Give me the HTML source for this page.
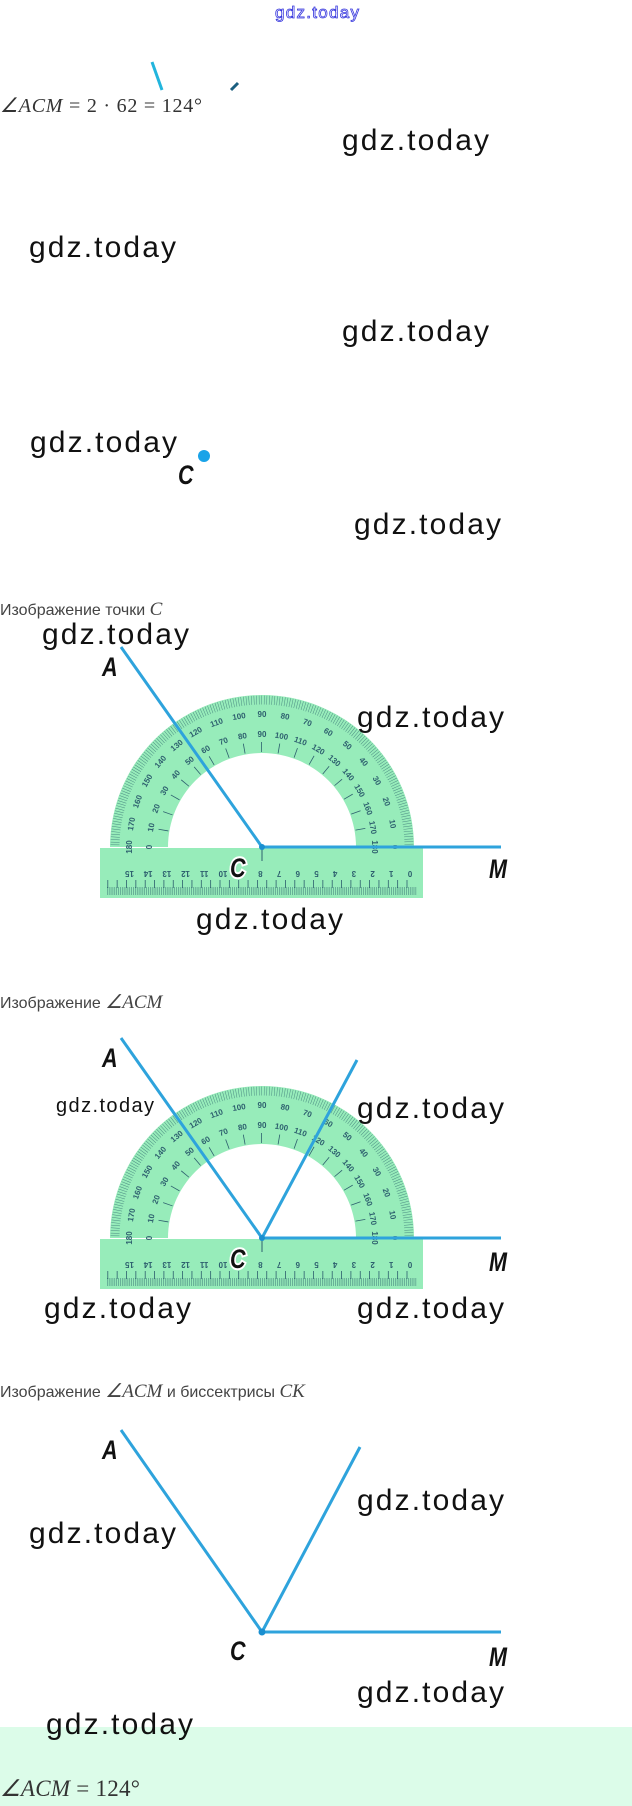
<!DOCTYPE html>
<html><head><meta charset="utf-8">
<style>
html,body{margin:0;padding:0;background:#fff;}
svg{display:block;}
.wm{font-family:"Liberation Sans",sans-serif;font-size:30px;fill:#111;font-weight:300;}
.lbl{font-family:"Liberation Sans Narrow","Liberation Sans",sans-serif;font-size:27px;font-weight:bold;font-style:italic;fill:#111;}
.hd{font-family:"Liberation Sans",sans-serif;font-size:16px;fill:#444;}
.mt{font-family:"Liberation Serif",serif;font-style:italic;}
.pn{font-family:"Liberation Sans",sans-serif;font-size:8px;font-weight:bold;fill:#2d5f6e;text-anchor:middle;}
</style></head>
<body>
<svg width="632" height="1806" viewBox="0 0 632 1806" xmlns="http://www.w3.org/2000/svg">
<defs>
<g id="prot">
  <path d="M-152,0 A152,152 0 0 1 152,0 L94,0 A94,94 0 0 0 -94,0 Z" fill="#97ecba"/>
  <path d="M147,0 A147,147 0 0 0 -147,0" fill="none" stroke="#4a8a82" stroke-width="9" stroke-dasharray="0.5 2.065"/>
  <path d="M100,0 A100,100 0 0 0 -100,0" fill="none" stroke="#2d5f6e" stroke-width="10" stroke-dasharray="0.8 16.65"/>
  <rect x="-162" y="1" width="323" height="50" fill="#97ecba"/>
  <line x1="-155" y1="44" x2="155" y2="44" stroke="#4a8a82" stroke-width="8" stroke-dasharray="0.6 1.27"/>
  <line x1="-152" y1="37" x2="152" y2="37" stroke="#2d5f6e" stroke-width="8" stroke-dasharray="0.8 8.55" transform="translate(-2.6,0)"/>
  <line x1="0" y1="1" x2="0" y2="14" stroke="#2d5f6e" stroke-width="1"/>
  <g class="pn">
    <text transform="translate(130,0) rotate(90)">0</text>
    <text transform="translate(128,-22.6) rotate(80)">10</text>
    <text transform="translate(122,-44.5) rotate(70)">20</text>
    <text transform="translate(112.6,-65) rotate(60)">30</text>
    <text transform="translate(99.6,-83.6) rotate(50)">40</text>
    <text transform="translate(83.6,-99.6) rotate(40)">50</text>
    <text transform="translate(65,-112.6) rotate(30)">60</text>
    <text transform="translate(44.5,-122) rotate(20)">70</text>
    <text transform="translate(22.6,-128) rotate(10)">80</text>
    <text transform="translate(0,-130)">90</text>
    <text transform="translate(-22.6,-128) rotate(-10)">100</text>
    <text transform="translate(-44.5,-122) rotate(-20)">110</text>
    <text transform="translate(-65,-112.6) rotate(-30)">120</text>
    <text transform="translate(-83.6,-99.6) rotate(-40)">130</text>
    <text transform="translate(-99.6,-83.6) rotate(-50)">140</text>
    <text transform="translate(-112.6,-65) rotate(-60)">150</text>
    <text transform="translate(-122,-44.5) rotate(-70)">160</text>
    <text transform="translate(-128,-22.6) rotate(-80)">170</text>
    <text transform="translate(-130,0) rotate(-90)">180</text>
    <text transform="translate(110,0) rotate(90)">180</text>
    <text transform="translate(108.3,-19.1) rotate(80)">170</text>
    <text transform="translate(103.4,-37.6) rotate(70)">160</text>
    <text transform="translate(95.3,-55) rotate(60)">150</text>
    <text transform="translate(84.3,-70.7) rotate(50)">140</text>
    <text transform="translate(70.7,-84.3) rotate(40)">130</text>
    <text transform="translate(55,-95.3) rotate(30)">120</text>
    <text transform="translate(37.6,-103.4) rotate(20)">110</text>
    <text transform="translate(19.1,-108.3) rotate(10)">100</text>
    <text transform="translate(0,-110)">90</text>
    <text transform="translate(-19.1,-108.3) rotate(-10)">80</text>
    <text transform="translate(-37.6,-103.4) rotate(-20)">70</text>
    <text transform="translate(-55,-95.3) rotate(-30)">60</text>
    <text transform="translate(-70.7,-84.3) rotate(-40)">50</text>
    <text transform="translate(-84.3,-70.7) rotate(-50)">40</text>
    <text transform="translate(-95.3,-55) rotate(-60)">30</text>
    <text transform="translate(-103.4,-37.6) rotate(-70)">20</text>
    <text transform="translate(-108.3,-19.1) rotate(-80)">10</text>
    <text transform="translate(-110,0) rotate(-90)">0</text>
    <text transform="translate(148,24) rotate(180)">0</text>
    <text transform="translate(129.3,24) rotate(180)">1</text>
    <text transform="translate(110.6,24) rotate(180)">2</text>
    <text transform="translate(91.9,24) rotate(180)">3</text>
    <text transform="translate(73.2,24) rotate(180)">4</text>
    <text transform="translate(54.5,24) rotate(180)">5</text>
    <text transform="translate(35.8,24) rotate(180)">6</text>
    <text transform="translate(17.1,24) rotate(180)">7</text>
    <text transform="translate(-1.6,24) rotate(180)">8</text>
    <text transform="translate(-20.3,24) rotate(180)">9</text>
    <text transform="translate(-39,24) rotate(180)">10</text>
    <text transform="translate(-57.7,24) rotate(180)">11</text>
    <text transform="translate(-76.4,24) rotate(180)">12</text>
    <text transform="translate(-95.1,24) rotate(180)">13</text>
    <text transform="translate(-113.8,24) rotate(180)">14</text>
    <text transform="translate(-132.5,24) rotate(180)">15</text>
  </g>
</g>
</defs>

<!-- top -->
<text x="275" y="18" font-family="Liberation Sans,sans-serif" font-size="17" fill="none" stroke="#3333dd" stroke-width="0.8" textLength="84">gdz.today</text>
<line x1="152" y1="62" x2="162" y2="90" stroke="#22b5dd" stroke-width="3"/>
<line x1="231" y1="90" x2="238" y2="83" stroke="#1b5f80" stroke-width="3"/>
<text x="0" y="112" font-family="Liberation Serif,serif" font-size="20" fill="#333" textLength="202"><tspan font-style="italic">∠ACM</tspan> = 2 · 62 = 124°</text>

<text class="wm" x="342" y="150" textLength="147">gdz.today</text>
<text class="wm" x="29" y="257" textLength="147">gdz.today</text>
<text class="wm" x="342" y="341" textLength="147">gdz.today</text>
<text class="wm" x="30" y="452" textLength="147">gdz.today</text>
<circle cx="204" cy="456" r="6" fill="#1aa3e8"/>
<text class="lbl" x="178" y="484" transform="translate(178,0) scale(0.8,1) translate(-178,0)">C</text>
<text class="wm" x="354" y="534" textLength="147">gdz.today</text>

<!-- diagram 1 -->
<text class="hd" x="0" y="615">Изображение точки <tspan class="mt" font-size="19">C</tspan></text>
<text class="wm" x="42" y="644" textLength="147">gdz.today</text>
<use href="#prot" transform="translate(262,847)"/>
<line x1="121" y1="647" x2="262" y2="847" stroke="#2ea3dc" stroke-width="3"/>
<line x1="262" y1="847" x2="501" y2="847" stroke="#2ea3dc" stroke-width="3"/>
<circle cx="262" cy="847" r="3" fill="#1a8fd0"/>
<g transform="translate(0,0)">
<text class="lbl" x="102" y="676" transform="translate(102,0) scale(0.8,1) translate(-102,0)">A</text>
<text class="lbl" x="230" y="877" stroke="#fff" stroke-width="4" paint-order="stroke" transform="translate(230,0) scale(0.8,1) translate(-230,0)">C</text>
<text class="lbl" x="489" y="878" transform="translate(489,0) scale(0.8,1) translate(-489,0)">M</text>
</g>
<text class="wm" x="357" y="727" textLength="147">gdz.today</text>
<text class="wm" x="196" y="929" textLength="147">gdz.today</text>

<!-- diagram 2 -->
<text class="hd" x="0" y="1008">Изображение <tspan class="mt" font-size="19">∠ACM</tspan></text>
<use href="#prot" transform="translate(262,1238)"/>
<line x1="121" y1="1038" x2="262" y2="1238" stroke="#2ea3dc" stroke-width="3"/>
<line x1="262" y1="1238" x2="357" y2="1060" stroke="#2ea3dc" stroke-width="3"/>
<line x1="262" y1="1238" x2="501" y2="1238" stroke="#2ea3dc" stroke-width="3"/>
<circle cx="262" cy="1238" r="3" fill="#1a8fd0"/>
<text class="lbl" x="102" y="1067" transform="translate(102,0) scale(0.8,1) translate(-102,0)">A</text>
<text class="lbl" x="230" y="1268" stroke="#fff" stroke-width="4" paint-order="stroke" transform="translate(230,0) scale(0.8,1) translate(-230,0)">C</text>
<text class="lbl" x="489" y="1271" transform="translate(489,0) scale(0.8,1) translate(-489,0)">M</text>
<text x="56" y="1112" style="font-family:'Liberation Sans',sans-serif;font-size:20px;fill:#111" textLength="98">gdz.today</text>
<text class="wm" x="357" y="1118" textLength="147">gdz.today</text>
<text class="wm" x="44" y="1318" textLength="147">gdz.today</text>
<text class="wm" x="357" y="1318" textLength="147">gdz.today</text>

<!-- diagram 3 -->
<text class="hd" x="0" y="1397">Изображение <tspan class="mt" font-size="19">∠ACM</tspan> и биссектрисы <tspan class="mt" font-size="19">CK</tspan></text>
<line x1="121" y1="1430" x2="262" y2="1632" stroke="#2ea3dc" stroke-width="3"/>
<line x1="262" y1="1632" x2="360" y2="1447" stroke="#2ea3dc" stroke-width="3"/>
<line x1="262" y1="1632" x2="501" y2="1632" stroke="#2ea3dc" stroke-width="3"/>
<circle cx="262" cy="1632" r="3.5" fill="#1a8fd0"/>
<text class="lbl" x="102" y="1459" transform="translate(102,0) scale(0.8,1) translate(-102,0)">A</text>
<text class="lbl" x="230" y="1660" transform="translate(230,0) scale(0.8,1) translate(-230,0)">C</text>
<text class="lbl" x="489" y="1666" transform="translate(489,0) scale(0.8,1) translate(-489,0)">M</text>
<text class="wm" x="357" y="1510" textLength="147">gdz.today</text>
<text class="wm" x="29" y="1543" textLength="147">gdz.today</text>
<text class="wm" x="357" y="1702" textLength="147">gdz.today</text>

<rect x="0" y="1727" width="632" height="79" fill="#dcfce9"/>
<text class="wm" x="46" y="1734" textLength="147">gdz.today</text>
<text x="0" y="1796" font-family="Liberation Serif,serif" font-size="23" fill="#333" textLength="140"><tspan font-style="italic">∠ACM</tspan> = 124°</text>
</svg>
</body></html>
